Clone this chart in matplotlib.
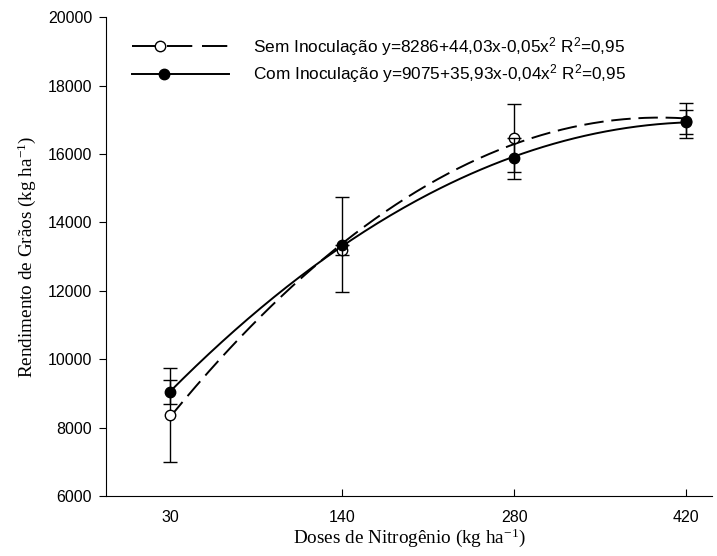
import numpy as np
import matplotlib
matplotlib.use("Agg")
import matplotlib.pyplot as plt

doses = ["30", "140", "280", "420"]
sem = [8370, 13200, 16470, 16980]
sem_err = [1370, 150, 990, 520]
com = [9040, 13350, 15880, 16940]
com_err = [350, 1390, 600, 350]

lab_sem = "Sem Inoculação y=8286+44,03x-0,05x$\\mathregular{^2}$ R$\\mathregular{^2}$=0,95"
lab_com = "Com Inoculação y=9075+35,93x-0,04x$\\mathregular{^2}$ R$\\mathregular{^2}$=0,95"

plt.rcParams['font.family'] = ['Liberation Sans', 'DejaVu Sans']

fig = plt.figure(figsize=(7.17, 5.56), dpi=100)
ax = fig.add_axes([0.148, 0.108, 0.845, 0.861])

x = np.arange(len(doses))
xs = np.linspace(0, len(doses) - 1, 200)

# quadratic trend lines fitted on the category positions
p_sem = np.polyfit(x, sem, 2)
p_com = np.polyfit(x, com, 2)
ax.plot(xs, np.polyval(p_sem, xs), color="black", lw=1.4, dashes=(10, 4))
ax.plot(xs, np.polyval(p_com, xs), color="black", lw=1.4)

ax.errorbar(x, sem, yerr=sem_err, fmt="o", mfc="white", mec="black", ecolor="black",
            ms=7.5, capsize=5, elinewidth=1, capthick=1, zorder=3)
ax.errorbar(x, com, yerr=com_err, fmt="o", mfc="black", mec="black", ecolor="black",
            ms=7.5, capsize=5, elinewidth=1, capthick=1, zorder=4)

# legend drawn by hand (marker sits left of centre on the sample line)
tr = ax.transAxes
ax.plot([0.043, 0.203], [0.939, 0.939], transform=tr, color="black", lw=1.4, dashes=(13, 5))
ax.plot([0.089], [0.939], transform=tr, marker="o", mfc="white", mec="black", ms=7.5, color="black")
ax.plot([0.043, 0.203], [0.882, 0.882], transform=tr, color="black", lw=1.4)
ax.plot([0.095], [0.882], transform=tr, marker="o", mfc="black", mec="black", ms=7.5, color="black")
ax.text(0.243, 0.939, lab_sem, transform=tr, va="center", ha="left", fontsize=12.4)
ax.text(0.243, 0.882, lab_com, transform=tr, va="center", ha="left", fontsize=12.4)

ax.set_xlim(-0.372, 3.15)
ax.set_ylim(6000, 20000)
ax.set_xticks(x)
ax.set_xticklabels(doses)
ax.set_yticks(np.arange(6000, 20001, 2000))

ax.spines['top'].set_visible(False)
ax.spines['right'].set_visible(False)
ax.tick_params(axis='y', direction='out', length=5, labelsize=11.5, pad=5)
ax.tick_params(axis='x', direction='in', length=5, labelsize=11.5, pad=10)
ax.xaxis.get_major_ticks()[0].tick1line.set_visible(False)

ax.set_xlabel("Doses de Nitrogênio (kg ha$\\mathregular{^{-1}}$)", family="Liberation Serif", fontsize=13.8, labelpad=1)
ax.set_ylabel("Rendimento de Grãos (kg ha$\\mathregular{^{-1}}$)", family="Liberation Serif", fontsize=13.8, labelpad=7)

fig.savefig("out.png", dpi=100)
